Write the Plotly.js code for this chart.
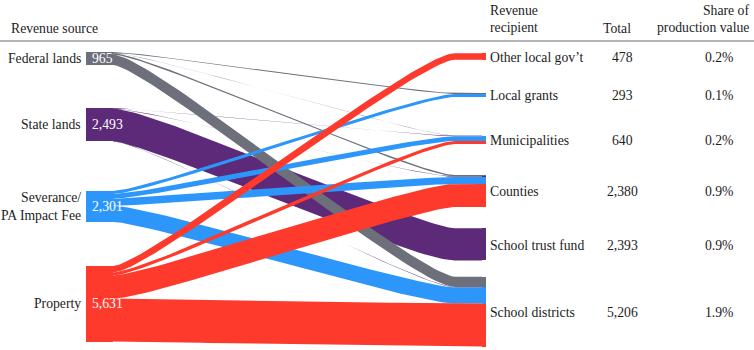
<!DOCTYPE html>
<html>
<head>
<meta charset="utf-8">
<script src="https://cdn.plot.ly/plotly-3.0.1.min.js"></script>
<style>html,body{margin:0;padding:0;background:#fff}#chart{width:754px;height:350px}</style>
</head>
<body>
<div id="chart"></div>
<script>
// ---------- data ----------
const sources = ["Federal lands", "State lands", "Severance/<br>PA Impact Fee", "Property"];
const sourceTotals = [965, 2493, 2301, 5631];
const recipients = ["Other local gov’t", "Local grants", "Municipalities", "Counties", "School trust fund", "School districts"];
const recipientTotals = [478, 293, 640, 2380, 2393, 5206];
const recipientShare = ["0.2%", "0.1%", "0.2%", "0.9%", "0.9%", "1.9%"];
// flows (source index -> recipient index)
const linkSource = [0, 0, 0, 0, 1, 1, 1, 1, 2, 2, 2, 2, 3, 3, 3, 3];
const linkTarget = [1, 2, 3, 5, 2, 3, 4, 5, 1, 2, 3, 5, 0, 2, 3, 5];
const linkValue  = [70, 20, 110, 765, 35, 35, 2393, 30, 223, 350, 525, 1203, 478, 235, 1710, 3208];

// ---------- styles / layout constants ----------
const sourceColors = ["#6d707b", "#5c2a78", "#2d96fb", "#fe3a2d"];
const drawOrder = [1, 0, 2, 3];
const K = 0.01343;               // px per unit of revenue
const leftTop = [52, 108, 191, 266];
const rightTop = [53.3, 93, 135.5, 175, 228.3, 276.7];
const LX0 = 86, LX1 = 113, RX0 = 482, RX1 = 486, XB = 455, C1 = 36, C2 = 40;
const FONT = "'Liberation Serif', 'Times New Roman', 'DejaVu Serif', serif";
const FS = 13.7;

// ---------- stacking ----------
const n = linkValue.length;
const y0c = new Array(n), y1c = new Array(n), w = new Array(n);
const srcOff = sourceTotals.map(() => 0), tgtOff = recipients.map(() => 0);
const bySrc = [...Array(n).keys()].sort((a, b) => linkSource[a] - linkSource[b] || linkTarget[a] - linkTarget[b]);
bySrc.forEach(i => {
  const s = linkSource[i]; w[i] = linkValue[i] * K;
  y0c[i] = leftTop[s] + srcOff[s] + w[i] / 2; srcOff[s] += w[i];
});
const byTgt = [...Array(n).keys()].sort((a, b) => linkTarget[a] - linkTarget[b] || linkSource[a] - linkSource[b]);
const tgtStart = new Array(n);
byTgt.forEach(i => {
  const t = linkTarget[i];
  tgtStart[i] = rightTop[t] + tgtOff[t];
  y1c[i] = tgtStart[i] + w[i] / 2; tgtOff[t] += w[i];
});

function ribbon(i) {
  const pts = [];
  const ya = y0c[i], yb = y1c[i];
  const P = [[LX1, ya], [LX1 + C1, ya], [XB - C2, yb], [XB, yb]];
  const N = 60;
  for (let k = 0; k <= N; k++) {
    const t = k / N, u = 1 - t;
    const x = u*u*u*P[0][0] + 3*u*u*t*P[1][0] + 3*u*t*t*P[2][0] + t*t*t*P[3][0];
    const y = u*u*u*P[0][1] + 3*u*u*t*P[1][1] + 3*u*t*t*P[2][1] + t*t*t*P[3][1];
    let dx = 3*u*u*(P[1][0]-P[0][0]) + 6*u*t*(P[2][0]-P[1][0]) + 3*t*t*(P[3][0]-P[2][0]);
    let dy = 3*u*u*(P[1][1]-P[0][1]) + 6*u*t*(P[2][1]-P[1][1]) + 3*t*t*(P[3][1]-P[2][1]);
    const L = Math.hypot(dx, dy) || 1; dx /= L; dy /= L;
    pts.push([x, y, -dy, dx]);
  }
  pts.push([RX0, yb, 0, 1]);
  const hw = w[i] / 2;
  const xs = [], ys = [];
  pts.forEach(p => { xs.push(p[0] + p[2]*hw); ys.push(p[1] + p[3]*hw); });
  for (let k = pts.length - 1; k >= 0; k--) { const p = pts[k]; xs.push(p[0] - p[2]*hw); ys.push(p[1] - p[3]*hw); }
  xs.push(xs[0]); ys.push(ys[0]);
  return {x: xs, y: ys, type: "scatter", mode: "lines", fill: "toself",
    fillcolor: sourceColors[linkSource[i]], line: {width: 0, color: sourceColors[linkSource[i]]},
    hoverinfo: "skip", showlegend: false};
}

const traces = [];
drawOrder.forEach(s => {
  for (let i = 0; i < n; i++) if (linkSource[i] === s) traces.push(ribbon(i));
});

// left nodes
traces.push({type: "bar", x: sources.map(() => (LX0 + LX1) / 2), y: sourceTotals.map(v => v * K),
  base: leftTop, width: sources.map(() => LX1 - LX0), marker: {color: sourceColors, line: {width: 0}},
  hoverinfo: "skip", showlegend: false});
// right node segments
traces.push({type: "bar", x: linkValue.map(() => (RX0 + RX1) / 2), y: w, base: tgtStart,
  width: linkValue.map(() => RX1 - RX0), marker: {color: linkSource.map(s => sourceColors[s]), line: {width: 0}},
  hoverinfo: "skip", showlegend: false});

const ann = [];
const txt = (x, y, text, xa, color) => ann.push({x, y, text, xref: "x", yref: "y", xanchor: xa, yanchor: "middle",
  showarrow: false, align: xa === "right" ? "right" : (xa === "center" ? "center" : "left"),
  font: {family: FONT, size: FS, color: color || "#1c1c1c"}});

sources.forEach((s, i) => {
  const c = leftTop[i] + sourceTotals[i] * K / 2;
  txt(83, c, s, "right");
  txt(90, c, sourceTotals[i].toLocaleString("en-US"), "left", "#ffffff");
});
recipients.forEach((r, i) => {
  const c = rightTop[i] + recipientTotals[i] * K / 2 + 1;
  txt(488, c, r, "left");
  txt(622, c, recipientTotals[i].toLocaleString("en-US"), "center");
  txt(719, c, recipientShare[i], "center");
});
txt(9, 28, "Revenue source", "left");
txt(488, 10, "Revenue", "left");
txt(488, 27, "recipient", "left");
txt(617, 28, "Total", "center");
txt(751, 10, "Share of", "right");
txt(751, 27, "production value", "right");

const layout = {
  width: 754, height: 350, margin: {l: 0, r: 0, t: 0, b: 0, pad: 0},
  paper_bgcolor: "#ffffff", plot_bgcolor: "#ffffff", barmode: "overlay", bargap: 0,
  font: {family: FONT, size: FS, color: "#1c1c1c"},
  xaxis: {range: [0, 754], visible: false, fixedrange: true},
  yaxis: {range: [350, 0], visible: false, fixedrange: true},
  showlegend: false, hovermode: false,
  shapes: [{type: "line", xref: "x", yref: "y", x0: 0, x1: 754, y0: 41, y1: 41, line: {color: "#9c9c9c", width: 1.5}}],
  annotations: ann
};
Plotly.newPlot("chart", traces, layout, {displayModeBar: false, staticPlot: true});
</script>
</body>
</html>
